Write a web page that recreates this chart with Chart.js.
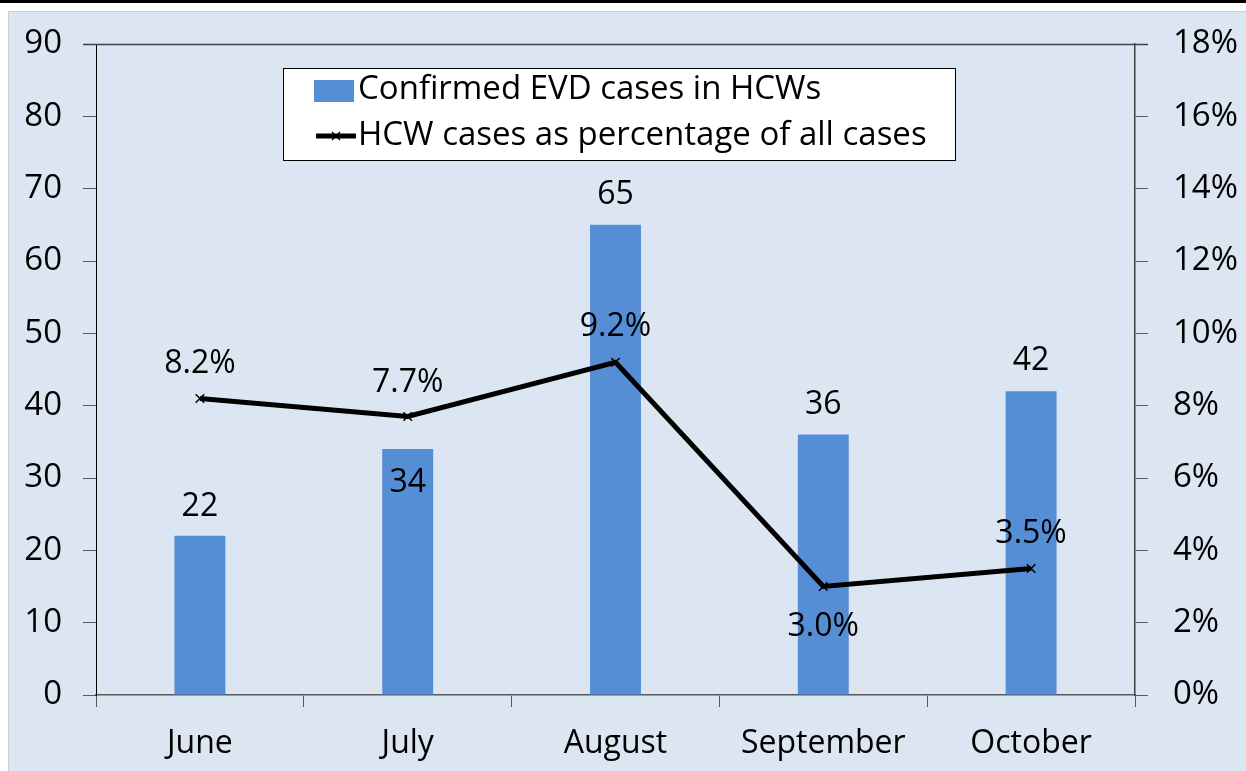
<!DOCTYPE html>
<html>
<head>
<meta charset="utf-8">
<script src="https://cdn.jsdelivr.net/npm/chart.js@4"></script>
<style>
	body { margin: 0; background: #fff; width: 1246px; height: 771px; overflow: hidden; position: relative; }
	#topbar { position: absolute; left: 0; top: 0; width: 1246px; height: 3px; background: #000; }
	#container { position: absolute; left: 8px; top: 11px; width: 1238px; height: 760px; background: #dce6f2; border-left: 1px solid #c9ced6; border-top: 1px solid #c9ced6; box-sizing: border-box; }
	#container canvas { position: absolute; left: -1px; top: -1px; }
</style>
</head>
<body>
<div id="topbar"></div>
<div id="container"><canvas id="chart" width="1238" height="760"></canvas></div>
<script>
let $ = document.querySelector.bind(document);

const months = ['June', 'July', 'August', 'September', 'October'];
const hcwCases = [22, 34, 65, 36, 42];
const hcwPercent = [8.2, 7.7, 9.2, 3.0, 3.5];
const barLabel = 'Confirmed EVD cases in HCWs';
const lineLabel = 'HCW cases as percentage of all cases';

const font = 'Open Sans';

// value labels; offsets in px from the mark (negative = above)
const valueLabels = {
	id: 'valueLabels',
	afterDatasetsDraw(chart, args, opts) {
		const ctx = chart.ctx;
		ctx.save();
		ctx.font = '32px "' + font + '"';
		ctx.fillStyle = '#000';
		ctx.textAlign = 'center';
		ctx.textBaseline = 'middle';
		chart.data.datasets.forEach((ds, i) => {
			const meta = chart.getDatasetMeta(i);
			const offs = opts.offsets[i];
			meta.data.forEach((el, j) => {
				const v = ds.data[j];
				const txt = ds.type === 'line' ? v.toFixed(1) + '%' : String(v);
				ctx.fillText(txt, el.x, el.y + offs[j]);
			});
		});
		ctx.restore();
	}
};

// top border of the plot and the boxed legend inside it
const frameAndLegend = {
	id: 'frameAndLegend',
	afterDraw(chart, args, opts) {
		const ctx = chart.ctx;
		const a = chart.chartArea;
		ctx.save();
		ctx.strokeStyle = '#404040';
		ctx.lineWidth = 1.5;
		ctx.beginPath();
		ctx.moveTo(a.left - 13, a.top + 0.5);
		ctx.lineTo(a.right + 13, a.top + 0.5);
		ctx.stroke();

		const b = opts.box;
		ctx.fillStyle = '#fff';
		ctx.fillRect(b.x, b.y, b.w, b.h);
		ctx.strokeStyle = '#000';
		ctx.lineWidth = 1;
		ctx.strokeRect(b.x + 0.5, b.y + 0.5, b.w, b.h);

		const bar = chart.data.datasets[0];
		const line = chart.data.datasets[1];
		const sx = b.x + 31;
		ctx.fillStyle = bar.backgroundColor;
		ctx.fillRect(sx, b.y + 12, 40, 22);
		ctx.strokeStyle = '#000';
		ctx.lineWidth = 5;
		ctx.beginPath();
		ctx.moveTo(sx + 2, b.y + 68);
		ctx.lineTo(sx + 42, b.y + 68);
		ctx.stroke();
		ctx.lineWidth = 1.2;
		ctx.beginPath();
		ctx.moveTo(sx + 18, b.y + 64); ctx.lineTo(sx + 26, b.y + 72);
		ctx.moveTo(sx + 26, b.y + 64); ctx.lineTo(sx + 18, b.y + 72);
		ctx.stroke();

		ctx.fillStyle = '#000';
		ctx.font = '33px "' + font + '"';
		ctx.textAlign = 'left';
		ctx.textBaseline = 'middle';
		ctx.fillText(bar.label, sx + 44, b.y + 22);
		ctx.fillText(line.label, sx + 44, b.y + 68);
		ctx.restore();
	}
};

const tickFont = { family: font, size: 33 };

function fitY(w) {
	return (scale) => {
		scale.width = w;
		scale.paddingTop = 0;
		scale.paddingBottom = 0;
	};
}

new Chart($('#chart'), {
	type: 'bar',
	data: {
		labels: months,
		datasets: [
			{
				type: 'bar',
				label: barLabel,
				data: hcwCases,
				yAxisID: 'y',
				backgroundColor: '#558ed5',
				barPercentage: 0.245,
				categoryPercentage: 1,
				order: 2
			},
			{
				type: 'line',
				label: lineLabel,
				data: hcwPercent,
				yAxisID: 'y1',
				borderColor: '#000',
				backgroundColor: '#000',
				borderWidth: 5,
				pointStyle: 'crossRot',
				pointRadius: 6,
				pointBorderWidth: 1.5,
				tension: 0,
				order: 1
			}
		]
	},
	options: {
		responsive: false,
		devicePixelRatio: 1,
		animation: false,
		layout: { padding: { top: 33, left: 0, right: 0, bottom: 0 } },
		plugins: {
			legend: { display: false },
			tooltip: { enabled: false },
			valueLabels: { offsets: [[-29, 34, -30, -30, -30], [-35, -34, -35, 40, -35]] },
			frameAndLegend: { box: { x: 275, y: 57, w: 672, h: 92 } }
		},
		scales: {
			x: {
				grid: { display: true, drawOnChartArea: false, drawTicks: true, tickLength: 12, color: '#595959', offset: true },
				border: { display: true, color: '#595959', width: 1.5 },
				ticks: { font: { family: font, size: 32 }, color: '#000', padding: 18 },
				afterFit(scale) { scale.height = 76; }
			},
			y: {
				position: 'left',
				min: 0,
				max: 90,
				ticks: { stepSize: 10, font: tickFont, color: '#000', padding: 21 },
				grid: { drawOnChartArea: false, drawTicks: true, tickLength: 13, color: '#595959' },
				border: { display: true, color: '#000', width: 1 },
				afterFit: fitY(88)
			},
			y1: {
				position: 'right',
				min: 0,
				max: 18,
				ticks: { stepSize: 2, font: tickFont, color: '#000', padding: 25, callback: (v) => v + '%' },
				grid: { drawOnChartArea: false, drawTicks: true, tickLength: 13, color: '#595959' },
				border: { display: true, color: '#404040', width: 1.5 },
				afterFit: fitY(111)
			}
		}
	},
	plugins: [valueLabels, frameAndLegend]
});
</script>
</body>
</html>
